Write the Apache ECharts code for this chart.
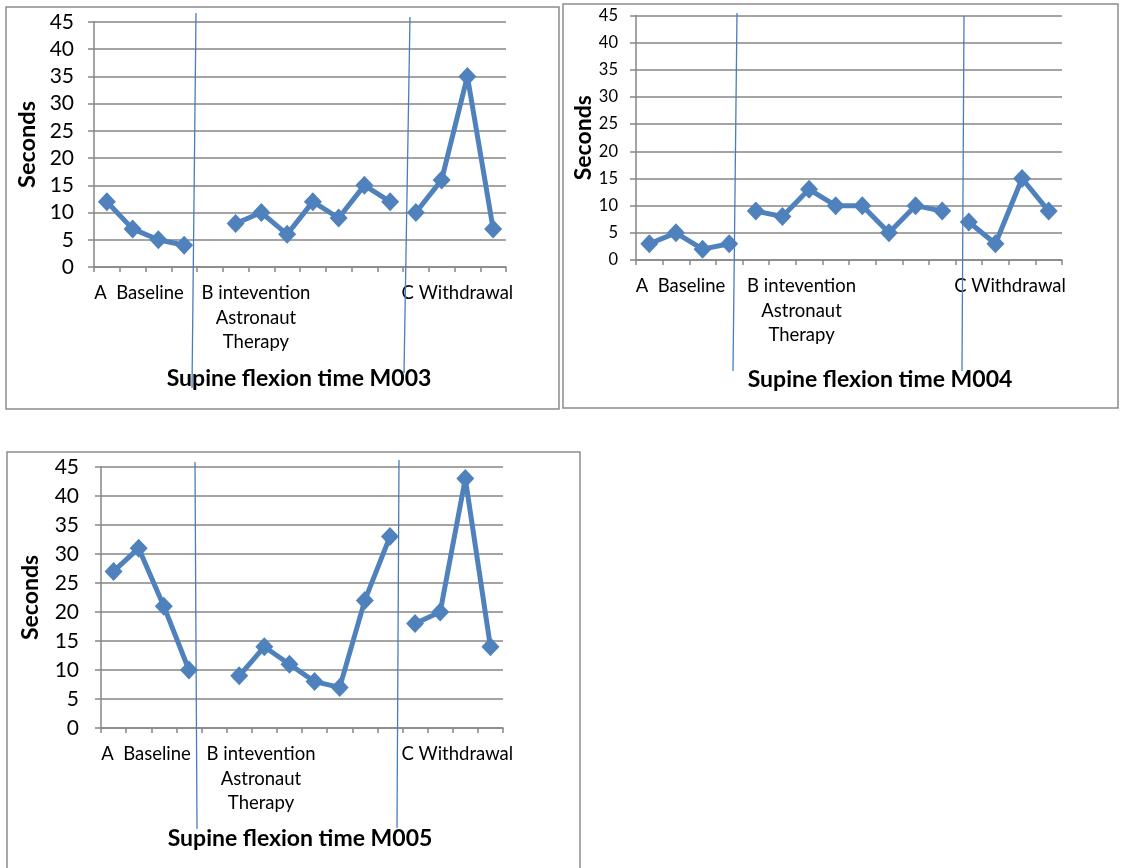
<!DOCTYPE html>
<html>
<head>
<meta charset="utf-8">
<script src="https://cdn.jsdelivr.net/npm/echarts@6/dist/echarts.min.js"></script>
<style>
html,body{margin:0;padding:0;background:#fff;}
#c{width:1122px;height:868px;}
</style>
</head>
<body>
<div id="c"></div>
<script>
// ---- data ----
const categories = ['', 'A  Baseline', '', '', '', '', 'B intevention\nAstronaut\nTherapy', '', '', '', '', '', '', '', 'C Withdrawal', ''];
const yTicks = [0, 5, 10, 15, 20, 25, 30, 35, 40, 45];
const titles = ['Supine flexion time M003', 'Supine flexion time M004', 'Supine flexion time M005'];
const yName = 'Seconds';

// M003
const m003Baseline = [12, 7, 5, 4, null, null, null, null, null, null, null, null, null, null, null, null];
const m003Interv   = [null, null, null, null, null, 8, 10, 6, 12, 9, 15, 12, null, null, null, null];
const m003Withdraw = [null, null, null, null, null, null, null, null, null, null, null, null, 10, 16, 35, 7];
// M004
const m004Baseline = [3, 5, 2, 3, null, null, null, null, null, null, null, null, null, null, null, null];
const m004Interv   = [null, null, null, null, 9, 8, 13, 10, 10, 5, 10, 9, null, null, null, null];
const m004Withdraw = [null, null, null, null, null, null, null, null, null, null, null, null, 7, 3, 15, 9];
// M005
const m005Baseline = [27, 31, 21, 10, null, null, null, null, null, null, null, null, null, null, null, null];
const m005Interv   = [null, null, null, null, null, 9, 14, 11, 8, 7, 22, 33, null, null, null, null];
const m005Withdraw = [null, null, null, null, null, null, null, null, null, null, null, null, 18, 20, 43, 14];

const panelSeries = [
  [m003Baseline, m003Interv, m003Withdraw],
  [m004Baseline, m004Interv, m004Withdraw],
  [m005Baseline, m005Interv, m005Withdraw]
];

// ---- layout ----
const FONT = 'Lato';
const BLUE = '#4F81BD';
const GREY = '#868686';
const XFONT = 18.5;
const panels = [
  {grid:{left:94, top:22, width:412, height:245}, yFont:21, yMargin:20, nameGap:55, nameFont:23.5,
   shift:{1:6.4, 6:-5.4, 14:-10}, title:{x:294, y:362},
   box:[6,7,553,402], vlines:[[196,13,192,388],[410,17,404,373]]},
  {grid:{left:636, top:15.5, width:426, height:244.5}, yFont:16.5, yMargin:18, nameGap:41, nameFont:23,
   shift:{1:4.6, 6:-7.5, 14:-12}, title:{x:875, y:363},
   box:[563,4,555,404], vlines:[[737,13,733,371],[964,16,962,371]]},
  {grid:{left:101, top:467, width:402, height:261}, yFont:21, yMargin:22, nameGap:59, nameFont:23,
   shift:{1:7.3, 6:-3.3, 14:-8}, title:{x:295, y:822},
   box:[7,452,573,430], vlines:[[195,462,197,829],[399,460,397,828]]}
];

const grids = [], xAxes = [], yAxes = [], series = [], titleArr = [], graphics = [];

panels.forEach((p, k) => {
  grids.push(p.grid);
  const rich = {};
  Object.keys(p.shift).forEach(i => {
    const d = p.shift[i];
    rich['s' + i] = {
      fontFamily: FONT, fontSize: XFONT, lineHeight: 24.5, color: '#000',
      padding: d >= 0 ? [0, 0, 0, 2 * d] : [0, -2 * d, 0, 0]
    };
  });
  xAxes.push({
    type: 'category', gridIndex: k, data: categories, boundaryGap: true,
    axisLine: {show: true, lineStyle: {color: GREY, width: 1.5}},
    axisTick: {show: true, interval: 0, length: 5, lineStyle: {color: GREY, width: 1.5}},
    axisLabel: {
      interval: 0, margin: 14, fontFamily: FONT, fontSize: XFONT, lineHeight: 24.5, color: '#000',
      rich: rich,
      formatter: (v, i) => v ? v.split('\n').map(l => '{s' + i + '|' + l + '}').join('\n') : ''
    },
    splitLine: {show: false}
  });
  yAxes.push({
    type: 'value', gridIndex: k, min: yTicks[0], max: yTicks[yTicks.length - 1], interval: yTicks[1] - yTicks[0],
    name: yName, nameLocation: 'middle', nameGap: p.nameGap,
    nameTextStyle: {fontFamily: FONT, fontSize: p.nameFont, fontWeight: 'bold', color: '#000'},
    axisLine: {show: true, lineStyle: {color: GREY, width: 1.5}},
    axisTick: {show: true, length: 6, lineStyle: {color: GREY, width: 1.5}},
    axisLabel: {margin: p.yMargin, fontFamily: FONT, fontSize: p.yFont, color: '#000'},
    splitLine: {show: true, lineStyle: {color: GREY, width: 1.5}}
  });
  panelSeries[k].forEach(arr => {
    series.push({
      type: 'line', xAxisIndex: k, yAxisIndex: k, data: arr,
      connectNulls: false, symbol: 'diamond', symbolSize: [18, 19],
      lineStyle: {color: BLUE, width: 5},
      itemStyle: {color: BLUE},
      animation: false
    });
  });
  titleArr.push({
    text: titles[k], left: p.title.x, top: p.title.y, textAlign: 'center',
    textStyle: {fontFamily: FONT, fontSize: 23, fontWeight: 'bold', color: '#000'}
  });
  graphics.push({
    type: 'rect', z: 0, silent: true,
    shape: {x: p.box[0], y: p.box[1], width: p.box[2], height: p.box[3]},
    style: {fill: 'none', stroke: '#8c8c8c', lineWidth: 1.5}
  });
  p.vlines.forEach(v => graphics.push({
    type: 'line', z: 100, silent: true,
    shape: {x1: v[0], y1: v[1], x2: v[2], y2: v[3]},
    style: {stroke: '#4A7EBB', lineWidth: 1.3}
  }));
});

const chart = echarts.init(document.getElementById('c'), null, {renderer: 'canvas'});
chart.setOption({
  animation: false,
  backgroundColor: '#fff',
  title: titleArr,
  grid: grids,
  xAxis: xAxes,
  yAxis: yAxes,
  series: series,
  graphic: graphics
});
</script>
</body>
</html>
